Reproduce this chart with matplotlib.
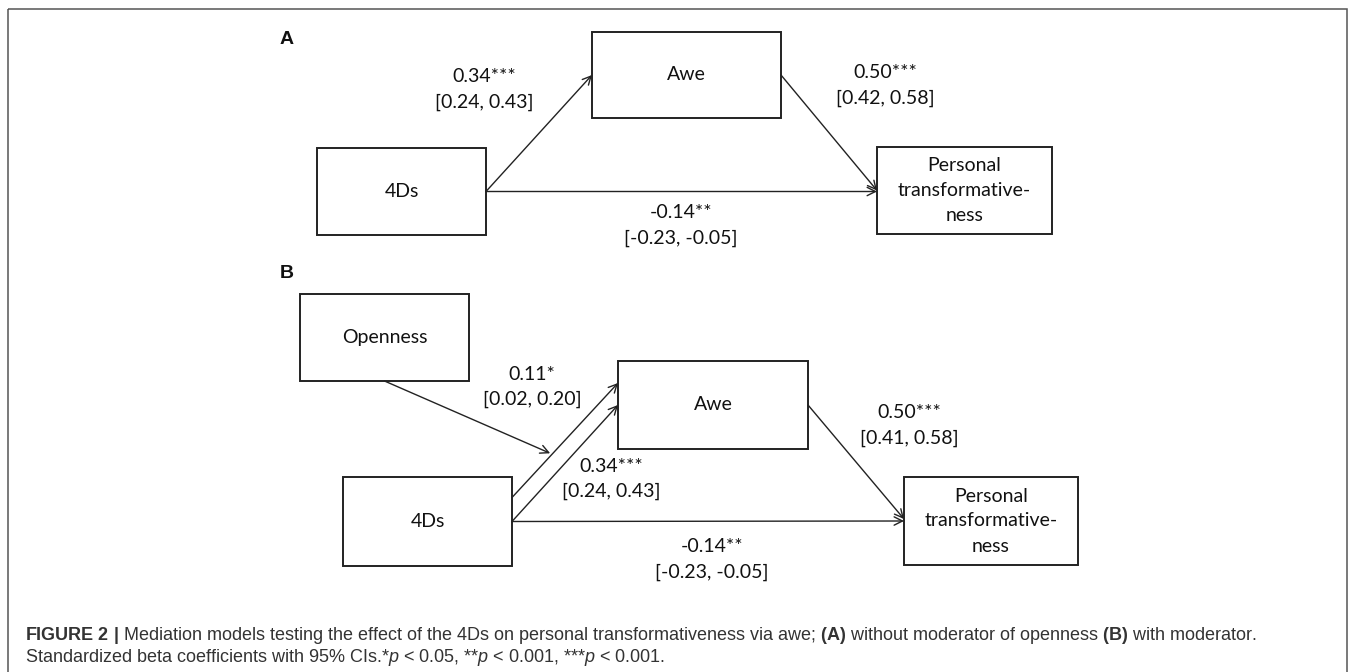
import matplotlib
matplotlib.use("Agg")
import matplotlib.pyplot as plt
from matplotlib.patches import Rectangle

plt.rcParams["mathtext.fontset"] = "custom"
plt.rcParams["mathtext.rm"] = "Liberation Sans"
plt.rcParams["mathtext.bf"] = "Liberation Sans:bold"
plt.rcParams["mathtext.it"] = "Liberation Sans:italic"

# model A: 4Ds -> Awe -> Personal transformativeness
nodes_a = ["4Ds", "Awe", "Personal\ntransformative-\nness"]
coef_a = ["0.34***", "0.50***", "-0.14**"]
ci_a = ["[0.24, 0.43]", "[0.42, 0.58]", "[-0.23, -0.05]"]

# model B: same, with openness as moderator of the 4Ds -> Awe path
nodes_b = ["Openness", "4Ds", "Awe", "Personal\ntransformative-\nness"]
coef_b = ["0.11*", "0.34***", "0.50***", "-0.14**"]
ci_b = ["[0.02, 0.20]", "[0.24, 0.43]", "[0.41, 0.58]", "[-0.23, -0.05]"]

panel_letters = ["A", "B"]
caption_1 = (r"$\bf{FIGURE\ 2\ |}$ Mediation models testing the effect of the 4Ds on "
             r"personal transformativeness via awe; $\bf{(A)}$ without moderator of "
             r"openness $\bf{(B)}$ with moderator.")
caption_2 = (r"Standardized beta coefficients with 95% CIs.*$\it{p}$ < 0.05, "
             r"**$\it{p}$ < 0.001, ***$\it{p}$ < 0.001.")

# layout in pixel units (x0, y0, x1, y1), y grows downward
boxes_a = [(317, 148, 486, 235), (592, 32, 781, 118), (877, 147, 1052, 234)]
label_pos_a = [(484, 77), (885, 73), (681, 213)]
boxes_b = [(300, 294, 469, 381), (343, 477, 512, 566),
           (618, 361, 808, 449), (904, 477, 1078, 565)]
label_pos_b = [(532, 374), (611, 466), (909, 413), (712, 547)]
letter_pos = [(280, 39), (280, 274)]
line_gap = 25

W, H = 1355, 672
fig = plt.figure(figsize=(W / 100, H / 100), dpi=100)
ax = fig.add_axes([0, 0, 1, 1])
ax.set_xlim(0, W)
ax.set_ylim(H, 0)
ax.axis("off")

node_font = dict(family="Lato", fontsize=14, color="#111111")
arrow_kw = dict(arrowstyle="->,head_length=0.6,head_width=0.3", lw=1.0,
                color="#222222", shrinkA=0, shrinkB=0)

# outer frame (open at the bottom, cut by the image edge)
ax.add_patch(Rectangle((8, 9), 1339, 680, fill=False, ec="#555555", lw=1.1,
                       clip_on=False))


def stacked(x, yc, lines):
    n = len(lines)
    for i, s in enumerate(lines):
        ax.text(x, yc + (i - (n - 1) / 2) * line_gap, s, ha="center",
                va="center", **node_font)


def draw_box(b, text):
    x0, y0, x1, y1 = b
    ax.add_patch(Rectangle((x0, y0), x1 - x0, y1 - y0, fill=False,
                           ec="#222222", lw=1.4))
    stacked((x0 + x1) / 2, (y0 + y1) / 2, text.split("\n"))


def right_mid(b, dy=0):
    return (b[2], (b[1] + b[3]) / 2 + dy)


def left_mid(b, dy=0):
    return (b[0], (b[1] + b[3]) / 2 + dy)


def arrow(p0, p1):
    ax.annotate("", xy=p1, xytext=p0, arrowprops=arrow_kw)


def path_label(pos, coef, ci):
    x, y = pos
    stacked(x, y + line_gap / 2, [coef, ci])


for (x, y), s in zip(letter_pos, panel_letters):
    ax.text(x, y, s, ha="left", va="center", family="Liberation Sans",
            fontweight="bold", fontsize=14, color="#111111")

# panel A
for b, t in zip(boxes_a, nodes_a):
    draw_box(b, t)
d4, awe, pt = boxes_a
arrow(right_mid(d4), left_mid(awe))
arrow(right_mid(awe), left_mid(pt))
arrow(right_mid(d4), left_mid(pt, 1))
for pos, c, ci in zip(label_pos_a, coef_a, ci_a):
    path_label(pos, c, ci)

# panel B
for b, t in zip(boxes_b, nodes_b):
    draw_box(b, t)
op, d4, awe, pt = boxes_b
up0, up1 = right_mid(d4, -24), left_mid(awe, -22)
arrow(up0, up1)
arrow(right_mid(d4), left_mid(awe))
t = 0.36
hit = (up0[0] + t * (up1[0] - up0[0]), up0[1] + t * (up1[1] - up0[1]) - 3)
arrow(((op[0] + op[2]) / 2, op[3]), hit)
arrow(right_mid(awe), left_mid(pt, -2))
arrow(right_mid(d4), left_mid(pt))
for pos, c, ci in zip(label_pos_b, coef_b, ci_b):
    path_label(pos, c, ci)

cap_font = dict(family="Liberation Sans", fontsize=13, color="#333333",
                ha="left", va="center")
ax.text(25, 636, caption_1, **cap_font)
ax.text(25, 657, caption_2, **cap_font)

fig.savefig("out.png", dpi=100)
